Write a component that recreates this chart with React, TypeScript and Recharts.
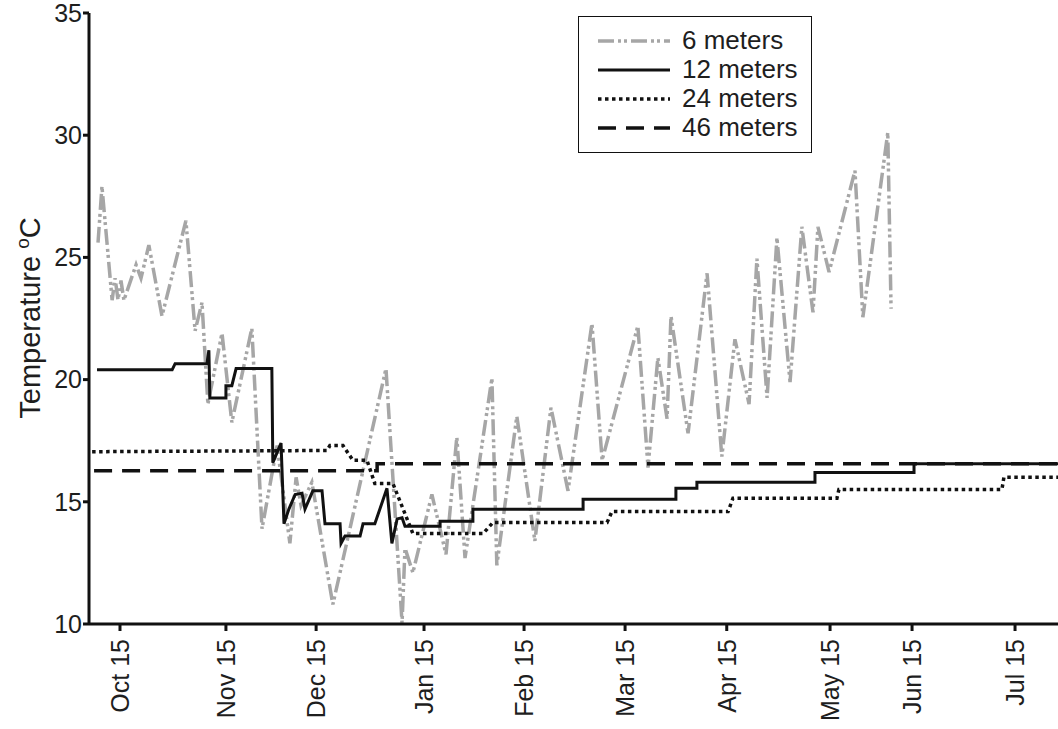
import React from "react";
import { LineChart, Line, XAxis, YAxis } from "recharts";

const FONT = "'Liberation Sans', Arial, Helvetica, sans-serif";
const INK = "#1e1e1e";

// d = days after Oct 1 (positions), t = temperature in ºC
const monthTicks = [14, 46.3, 73.8, 106.7, 137.2, 168, 199, 230.5, 255.5, 286.9];
const monthLabels = ["Oct 15", "Nov 15", "Dec 15", "Jan 15", "Feb 15", "Mar 15", "Apr 15", "May 15", "Jun 15", "Jul 15"];
const tempTicks = [10, 15, 20, 25, 30, 35];
const seriesNames = ["6 meters", "12 meters", "24 meters", "46 meters"];

const sixMeters = [
  { d: 7.3, t: 25.6 }, { d: 8.5, t: 27.9 }, { d: 11.6, t: 23.25 }, { d: 12.5, t: 24.15 },
  { d: 13.4, t: 23.25 }, { d: 14.3, t: 24.05 }, { d: 15.2, t: 23.25 }, { d: 18.9, t: 24.7 },
  { d: 20.4, t: 24.15 }, { d: 22.8, t: 25.5 }, { d: 26.8, t: 22.6 }, { d: 34.1, t: 26.5 },
  { d: 36.9, t: 22.0 }, { d: 39.0, t: 23.15 }, { d: 40.8, t: 19.0 }, { d: 45.1, t: 21.9 },
  { d: 48.1, t: 18.25 }, { d: 54.2, t: 22.1 }, { d: 57.3, t: 13.9 }, { d: 61.9, t: 17.3 },
  { d: 65.8, t: 13.3 }, { d: 67.7, t: 16.0 }, { d: 69.2, t: 14.85 }, { d: 72.5, t: 15.8 },
  { d: 78.9, t: 10.8 }, { d: 95.1, t: 20.45 }, { d: 100.0, t: 10.05 }, { d: 100.9, t: 13.1 },
  { d: 103.3, t: 12.1 }, { d: 109.1, t: 15.3 }, { d: 113.4, t: 12.85 }, { d: 116.7, t: 17.65 },
  { d: 119.2, t: 12.7 }, { d: 127.4, t: 20.05 }, { d: 128.9, t: 12.4 }, { d: 135.0, t: 18.5 },
  { d: 140.5, t: 13.4 }, { d: 145.4, t: 18.85 }, { d: 150.6, t: 15.45 }, { d: 157.9, t: 22.3 },
  { d: 161.0, t: 16.7 }, { d: 171.9, t: 22.2 }, { d: 175.0, t: 16.4 }, { d: 178.0, t: 20.9 },
  { d: 180.8, t: 18.4 }, { d: 182.0, t: 22.6 }, { d: 187.2, t: 17.8 }, { d: 193.0, t: 24.35 },
  { d: 197.5, t: 16.85 }, { d: 201.5, t: 21.65 }, { d: 205.8, t: 19.0 }, { d: 208.2, t: 24.95 },
  { d: 211.3, t: 19.25 }, { d: 214.3, t: 25.8 }, { d: 218.3, t: 19.9 }, { d: 221.9, t: 26.25 },
  { d: 225.3, t: 22.75 }, { d: 226.8, t: 26.25 }, { d: 230.2, t: 24.4 }, { d: 238.1, t: 28.55 },
  { d: 240.5, t: 22.55 }, { d: 248.1, t: 30.1 }, { d: 249.1, t: 22.9 },
];

const twelveMeters = [
  { d: 7.0, t: 20.4 }, { d: 29.9, t: 20.4 }, { d: 30.8, t: 20.65 }, { d: 40.5, t: 20.65 },
  { d: 41.1, t: 21.2 }, { d: 41.4, t: 19.25 }, { d: 46.3, t: 19.25 }, { d: 46.3, t: 19.75 },
  { d: 48.1, t: 19.75 }, { d: 49.4, t: 20.45 }, { d: 60.3, t: 20.45 }, { d: 60.6, t: 16.6 },
  { d: 63.1, t: 17.4 }, { d: 64.0, t: 14.1 }, { d: 65.5, t: 14.7 }, { d: 67.4, t: 15.3 },
  { d: 69.5, t: 15.35 }, { d: 70.4, t: 14.7 }, { d: 72.8, t: 15.45 }, { d: 75.6, t: 15.45 },
  { d: 76.5, t: 14.1 }, { d: 81.1, t: 14.1 }, { d: 81.4, t: 13.3 }, { d: 82.6, t: 13.6 },
  { d: 87.2, t: 13.6 }, { d: 88.1, t: 14.1 }, { d: 91.7, t: 14.1 }, { d: 95.4, t: 15.55 },
  { d: 96.9, t: 13.3 }, { d: 98.5, t: 14.3 }, { d: 100.0, t: 14.35 }, { d: 100.9, t: 14.0 },
  { d: 111.6, t: 14.0 }, { d: 111.6, t: 14.2 }, { d: 121.6, t: 14.2 }, { d: 121.6, t: 14.7 },
  { d: 155.2, t: 14.7 }, { d: 155.2, t: 15.1 }, { d: 183.5, t: 15.1 }, { d: 183.5, t: 15.55 },
  { d: 189.9, t: 15.55 }, { d: 189.9, t: 15.8 }, { d: 225.9, t: 15.8 }, { d: 225.9, t: 16.2 },
  { d: 256.1, t: 16.2 }, { d: 256.1, t: 16.56 }, { d: 300, t: 16.56 },
];

const twentyFourMeters = [
  { d: 5.5, t: 17.05 }, { d: 77.1, t: 17.1 }, { d: 78.0, t: 17.3 }, { d: 82.0, t: 17.3 },
  { d: 85.0, t: 16.7 }, { d: 89.3, t: 16.7 }, { d: 91.7, t: 15.75 }, { d: 97.2, t: 15.75 },
  { d: 103.3, t: 13.7 }, { d: 124.7, t: 13.7 }, { d: 127.7, t: 14.15 }, { d: 162.5, t: 14.15 },
  { d: 164.0, t: 14.6 }, { d: 199.4, t: 14.6 }, { d: 200.9, t: 15.15 }, { d: 232.6, t: 15.15 },
  { d: 233.2, t: 15.5 }, { d: 282.9, t: 15.5 }, { d: 283.5, t: 16.0 }, { d: 300, t: 16.0 },
];

const fortySixMeters = [
  { d: 6.1, t: 16.27 }, { d: 92.4, t: 16.27 }, { d: 92.4, t: 16.56 }, { d: 300, t: 16.56 },
];

const lineStyles = [
  { stroke: "#a6a6a6", width: 3.5, dash: "16 4 3 3 3 4" },
  { stroke: "#111", width: 3, dash: undefined },
  { stroke: "#111", width: 3.5, dash: "3.5 3.5" },
  { stroke: "#111", width: 3.5, dash: "18 10" },
];

function MonthTick({ x, y, index }: any) {
  const bx = x + 9;
  const by = y + 8;
  return (
    <text
      x={bx}
      y={by}
      transform={`rotate(-90, ${bx}, ${by})`}
      textAnchor="end"
      fontSize={25}
      fill={INK}
      fontFamily={FONT}
    >
      {monthLabels[index]}
    </text>
  );
}

function TempLabel() {
  return (
    <text
      x={40}
      y={318}
      transform="rotate(-90, 40, 318)"
      textAnchor="middle"
      fontSize={29}
      fill={INK}
      fontFamily={FONT}
    >
      Temperature
      <tspan fontSize={19} dx={7} dy={-11}>o</tspan>
      <tspan dy={11}>C</tspan>
    </text>
  );
}

function LegendBox() {
  return (
    <div
      style={{
        position: "absolute",
        left: 578,
        top: 16,
        width: 234,
        height: 137,
        boxSizing: "border-box",
        border: "1.5px solid #111",
        background: "#fff",
        paddingTop: 9,
        fontFamily: FONT,
        fontSize: 26,
        color: INK,
      }}
    >
      {seriesNames.map((name, i) => (
        <div key={name} style={{ height: 29, display: "flex", alignItems: "center" }}>
          <svg width={72} height={8} style={{ marginLeft: 19, marginRight: 12 }}>
            <line
              x1={0}
              y1={4}
              x2={72}
              y2={4}
              stroke={lineStyles[i].stroke}
              strokeWidth={lineStyles[i].width}
              strokeDasharray={lineStyles[i].dash}
            />
          </svg>
          <span style={{ lineHeight: "29px" }}>{name}</span>
        </div>
      ))}
    </div>
  );
}

export default function App() {
  const series = [sixMeters, twelveMeters, twentyFourMeters, fortySixMeters];
  return (
    <div style={{ position: "absolute", left: 0, top: 0, width: 1058, height: 729, background: "#fff" }}>
      <LineChart width={1058} height={729} margin={{ top: 13, right: 0, bottom: 0, left: 0 }}>
        <XAxis
          type="number"
          dataKey="d"
          domain={[4.55, 300]}
          ticks={monthTicks}
          interval={0}
          height={105}
          tick={<MonthTick />}
          tickSize={7}
          tickMargin={0}
          axisLine={{ stroke: "#111", strokeWidth: 3 }}
          tickLine={{ stroke: "#111", strokeWidth: 3 }}
          allowDataOverflow
        />
        <YAxis
          type="number"
          domain={[10, 35]}
          ticks={tempTicks}
          interval={0}
          width={89}
          tickSize={6}
          tickMargin={1}
          tick={{ fontSize: 25, fill: INK, fontFamily: FONT }}
          axisLine={{ stroke: "#111", strokeWidth: 3 }}
          tickLine={{ stroke: "#111", strokeWidth: 3 }}
          label={{ content: () => <TempLabel /> }}
          allowDataOverflow
        />
        {series.map((data, i) => (
          <Line
            key={seriesNames[i]}
            data={data}
            dataKey="t"
            name={seriesNames[i]}
            type="linear"
            stroke={lineStyles[i].stroke}
            strokeWidth={lineStyles[i].width}
            strokeDasharray={lineStyles[i].dash}
            strokeLinejoin="miter"
            dot={false}
            activeDot={false}
            isAnimationActive={false}
          />
        ))}
      </LineChart>
      <LegendBox />
    </div>
  );
}
